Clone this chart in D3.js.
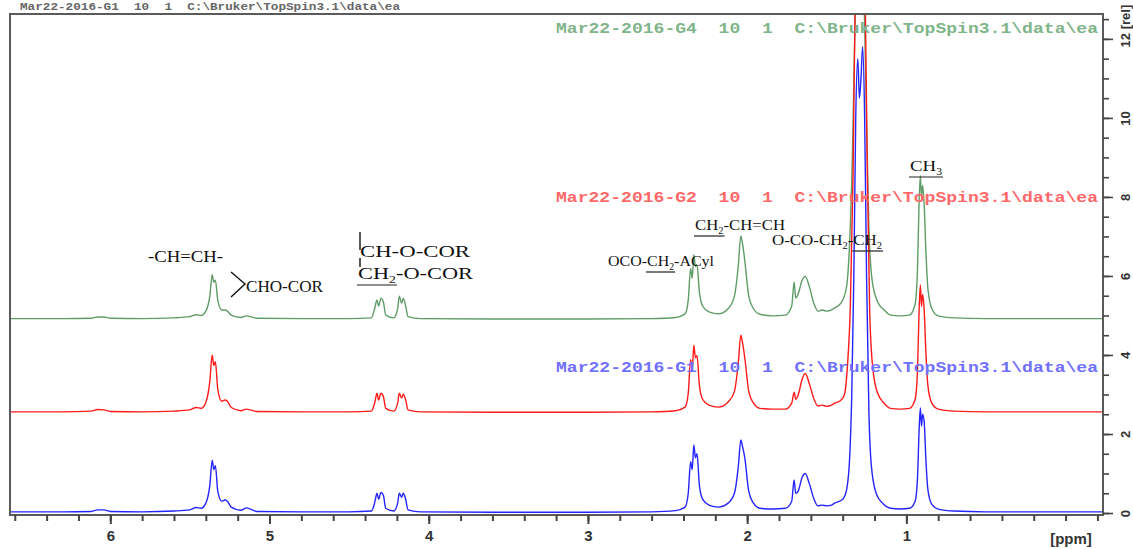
<!DOCTYPE html>
<html>
<head>
<meta charset="utf-8">
<script src="https://cdn.jsdelivr.net/npm/d3@7"></script>
<style>
  body { margin: 0; background: #fff; }
  svg { display: block; }
  .mono { white-space: pre; }
</style>
</head>
<body>
<div id="chart"></div>
<script>
// axis ranges / ticks
var ppmDomain = [6.63, -0.235];
var intDomain = [-0.05, 12.63];
var ppmMajor = [6, 5, 4, 3, 2, 1];
var intMajor = [0, 2, 4, 6, 8, 10, 12];

// stacked spectra, bottom to top
var spectrumNames = ["G1", "G2", "G4"];
var spectrumOffsets = [0, 2.53, 4.89];
var labelLevels = [3.7, 8.0, 12.28];

// [ppm, intensity above own baseline]
var g1 = [[6.63,0.03],[6.3,0.03],[6.12,0.04],[6.08,0.08],[6.04,0.08],[6.0,0.04],[5.8,0.03],[5.6,0.05],[5.5,0.08],[5.46,0.14],[5.43,0.12],[5.4,0.25],[5.375,0.7],[5.36,1.34],[5.35,1.1],[5.34,1.2],[5.325,0.55],[5.3,0.3],[5.28,0.33],[5.265,0.3],[5.24,0.15],[5.18,0.07],[5.145,0.13],[5.12,0.1],[5.08,0.04],[4.8,0.03],[4.5,0.03],[4.36,0.05],[4.34,0.25],[4.325,0.5],[4.315,0.35],[4.3,0.52],[4.285,0.45],[4.27,0.12],[4.22,0.05],[4.195,0.25],[4.185,0.5],[4.17,0.4],[4.16,0.5],[4.145,0.35],[4.13,0.08],[4.05,0.03],[3.6,0.02],[3.0,0.02],[2.6,0.03],[2.45,0.06],[2.39,0.15],[2.37,0.5],[2.355,1.3],[2.345,1.1],[2.335,1.72],[2.325,1.4],[2.315,1.5],[2.3,0.7],[2.28,0.35],[2.24,0.2],[2.18,0.15],[2.12,0.25],[2.08,0.5],[2.055,1.2],[2.04,1.85],[2.03,1.7],[2.015,1.4],[1.99,0.55],[1.96,0.25],[1.92,0.12],[1.84,0.1],[1.76,0.12],[1.72,0.3],[1.705,0.84],[1.695,0.5],[1.68,0.55],[1.655,0.9],[1.635,1.0],[1.61,0.75],[1.58,0.35],[1.555,0.18],[1.53,0.2],[1.5,0.18],[1.47,0.2],[1.45,0.25],[1.4,0.35],[1.375,0.6],[1.355,1.5],[1.343,3],[1.33,6],[1.318,10],[1.305,11.5],[1.295,10.5],[1.285,11],[1.275,11.8],[1.262,10],[1.25,6],[1.235,2.5],[1.22,1.2],[1.19,0.5],[1.15,0.25],[1.1,0.12],[1.04,0.1],[0.98,0.12],[0.945,0.3],[0.93,0.9],[0.92,2.1],[0.912,2.66],[0.905,2.2],[0.898,2.5],[0.888,2.3],[0.878,1.4],[0.865,0.6],[0.84,0.22],[0.8,0.1],[0.7,0.05],[0.5,0.03],[0.2,0.03],[-0.235,0.03]];

var g2 = [[6.63,0.03],[6.3,0.03],[6.12,0.05],[6.08,0.09],[6.04,0.08],[6.0,0.04],[5.8,0.03],[5.6,0.05],[5.5,0.08],[5.46,0.14],[5.43,0.12],[5.4,0.27],[5.375,0.8],[5.36,1.47],[5.35,1.2],[5.34,1.3],[5.325,0.6],[5.3,0.3],[5.28,0.33],[5.265,0.3],[5.24,0.14],[5.18,0.06],[5.145,0.1],[5.12,0.08],[5.08,0.04],[4.8,0.03],[4.5,0.03],[4.36,0.05],[4.34,0.25],[4.325,0.5],[4.315,0.33],[4.3,0.5],[4.285,0.42],[4.27,0.12],[4.22,0.05],[4.195,0.25],[4.185,0.5],[4.17,0.38],[4.16,0.48],[4.145,0.33],[4.13,0.08],[4.05,0.03],[3.6,0.02],[3.0,0.02],[2.6,0.03],[2.45,0.06],[2.39,0.15],[2.37,0.5],[2.355,1.35],[2.345,1.1],[2.335,1.72],[2.325,1.4],[2.315,1.45],[2.3,0.7],[2.28,0.35],[2.24,0.2],[2.18,0.15],[2.12,0.28],[2.08,0.55],[2.055,1.3],[2.04,1.97],[2.03,1.8],[2.015,1.4],[1.99,0.55],[1.96,0.25],[1.92,0.12],[1.84,0.1],[1.76,0.1],[1.72,0.25],[1.705,0.53],[1.695,0.35],[1.68,0.45],[1.655,0.85],[1.635,1.0],[1.61,0.75],[1.58,0.35],[1.555,0.18],[1.53,0.2],[1.5,0.17],[1.47,0.2],[1.45,0.25],[1.42,0.3],[1.4,0.38],[1.387,0.5],[1.37,1.2],[1.352,2.7],[1.335,6],[1.32,11],[1.305,13],[1.29,12],[1.275,13],[1.26,11],[1.245,6],[1.23,2.5],[1.21,1.1],[1.18,0.5],[1.14,0.25],[1.1,0.12],[1.04,0.1],[0.98,0.12],[0.945,0.35],[0.93,1.1],[0.92,2.6],[0.912,3.24],[0.905,2.7],[0.898,3.0],[0.888,2.6],[0.878,1.6],[0.865,0.7],[0.84,0.25],[0.8,0.1],[0.7,0.05],[0.5,0.03],[0.2,0.03],[-0.235,0.03]];

var g4 = [[6.63,0.03],[6.3,0.03],[6.12,0.04],[6.08,0.07],[6.04,0.07],[6.0,0.04],[5.8,0.03],[5.6,0.05],[5.5,0.08],[5.46,0.13],[5.43,0.11],[5.4,0.22],[5.375,0.6],[5.36,1.14],[5.35,0.95],[5.34,1.0],[5.325,0.5],[5.3,0.25],[5.28,0.25],[5.265,0.22],[5.24,0.12],[5.18,0.06],[5.145,0.1],[5.12,0.08],[5.08,0.04],[4.8,0.03],[4.5,0.03],[4.36,0.05],[4.34,0.28],[4.325,0.5],[4.315,0.35],[4.3,0.55],[4.285,0.45],[4.27,0.12],[4.22,0.05],[4.195,0.28],[4.185,0.6],[4.17,0.42],[4.16,0.55],[4.145,0.35],[4.13,0.08],[4.05,0.03],[3.6,0.02],[3.0,0.02],[2.6,0.03],[2.45,0.06],[2.39,0.15],[2.37,0.5],[2.355,1.3],[2.345,1.05],[2.335,1.65],[2.325,1.35],[2.315,1.4],[2.3,0.7],[2.28,0.35],[2.24,0.2],[2.18,0.15],[2.12,0.28],[2.08,0.6],[2.055,1.4],[2.04,2.12],[2.03,1.95],[2.015,1.5],[1.99,0.6],[1.96,0.28],[1.92,0.14],[1.84,0.1],[1.76,0.12],[1.72,0.35],[1.705,0.96],[1.695,0.55],[1.68,0.65],[1.655,1.0],[1.635,1.1],[1.61,0.85],[1.58,0.4],[1.555,0.22],[1.53,0.25],[1.5,0.22],[1.47,0.25],[1.45,0.3],[1.42,0.38],[1.4,0.5],[1.375,0.85],[1.356,2.0],[1.34,4],[1.325,7],[1.31,9],[1.295,8.5],[1.28,9],[1.265,8],[1.25,5],[1.235,2.3],[1.215,1.0],[1.18,0.45],[1.14,0.25],[1.1,0.12],[1.04,0.1],[0.98,0.12],[0.945,0.4],[0.93,1.3],[0.92,3.0],[0.912,3.65],[0.905,3.1],[0.898,3.4],[0.888,2.9],[0.878,1.8],[0.865,0.8],[0.84,0.28],[0.8,0.1],[0.7,0.05],[0.5,0.03],[0.2,0.03],[-0.235,0.03]];

var spectra = [g1, g2, g4];
var lineColors = ["#2424ff", "#ff1a1a", "#5f9c67"];
var textColors = ["#7070ff", "#ff6868", "#80b58a"];
var titleTemplate = "Mar22-2016-{n}  10  1  C:\\Bruker\\TopSpin3.1\\data\\ea";

var width = 1133, height = 549;
var frame = { left: 10, right: 1103, top: 14, bottom: 515 };

var svg = d3.select("#chart").append("svg")
  .attr("width", width)
  .attr("height", height);

var x = d3.scaleLinear().domain(ppmDomain).range([frame.left, frame.right]);
var y = d3.scaleLinear().domain(intDomain).range([frame.bottom, frame.top]);

svg.append("defs").append("clipPath").attr("id", "plot-clip")
  .append("rect")
  .attr("x", frame.left).attr("y", frame.top)
  .attr("width", frame.right - frame.left)
  .attr("height", frame.bottom - frame.top);

// header line above the frame
svg.append("text")
  .attr("class", "mono")
  .attr("x", 20).attr("y", 10)
  .attr("font-family", "Liberation Mono, monospace")
  .attr("font-size", 11).attr("font-weight", "bold")
  .attr("fill", "#666")
  .attr("textLength", 380).attr("lengthAdjust", "spacingAndGlyphs")
  .text(titleTemplate.replace("{n}", "G1"));

// spectra
var plot = svg.append("g").attr("clip-path", "url(#plot-clip)");
var drawOrder = [2, 0, 1];
drawOrder.forEach(function (i) {
  var off = spectrumOffsets[i];
  var line = d3.line()
    .x(function (d) { return x(d[0]); })
    .y(function (d) { return y(d[1] + off); })
    .curve(d3.curveMonotoneX);
  plot.append("path")
    .datum(spectra[i])
    .attr("d", line)
    .attr("fill", "none")
    .attr("stroke", lineColors[i])
    .attr("stroke-width", 1.4)
    .attr("stroke-linejoin", "round");
});

// spectrum file labels
spectrumNames.forEach(function (n, i) {
  svg.append("text")
    .attr("class", "mono")
    .attr("x", 556).attr("y", y(labelLevels[i]) + 5)
    .attr("font-family", "Liberation Mono, monospace")
    .attr("font-size", 14).attr("font-weight", "bold")
    .attr("fill", textColors[i])
    .attr("textLength", 542).attr("lengthAdjust", "spacingAndGlyphs")
    .text(titleTemplate.replace("{n}", n));
});

// frame
svg.append("rect")
  .attr("x", frame.left).attr("y", frame.top)
  .attr("width", frame.right - frame.left)
  .attr("height", frame.bottom - frame.top)
  .attr("fill", "none").attr("stroke", "#5a5a5a").attr("stroke-width", 2);

// bottom axis
var minorPpm = d3.range(-0.2, 6.61, 0.2);
svg.append("g")
  .attr("transform", "translate(0," + frame.bottom + ")")
  .call(d3.axisBottom(x).tickValues(minorPpm).tickSize(6).tickFormat(""))
  .call(function (g) { g.select(".domain").remove(); g.selectAll("line").attr("stroke", "#444").attr("stroke-width", 2); });

var xAxis = svg.append("g")
  .attr("transform", "translate(0," + frame.bottom + ")")
  .call(d3.axisBottom(x).tickValues(ppmMajor).tickSize(9).tickPadding(6).tickFormat(d3.format("d")));
xAxis.select(".domain").remove();
xAxis.selectAll("line").attr("stroke", "#444").attr("stroke-width", 2);
xAxis.selectAll("text")
  .attr("font-family", "Liberation Sans, Arial, sans-serif")
  .attr("font-size", 15).attr("font-weight", "bold").attr("fill", "#333");

svg.append("text")
  .attr("x", 1071).attr("y", 544)
  .attr("text-anchor", "middle")
  .attr("font-family", "Liberation Sans, Arial, sans-serif")
  .attr("font-size", 15).attr("font-weight", "bold").attr("fill", "#333")
  .text("[ppm]");

// right axis
var minorInt = d3.range(0, 12.6, 0.5);
svg.append("g")
  .attr("transform", "translate(" + frame.right + ",0)")
  .call(d3.axisRight(y).tickValues(minorInt).tickSize(6).tickFormat(""))
  .call(function (g) { g.select(".domain").remove(); g.selectAll("line").attr("stroke", "#444").attr("stroke-width", 1.6); });

var yAxis = svg.append("g")
  .attr("transform", "translate(" + frame.right + ",0)")
  .call(d3.axisRight(y).tickValues(intMajor).tickSize(10).tickFormat(""));
yAxis.select(".domain").remove();
yAxis.selectAll("line").attr("stroke", "#444").attr("stroke-width", 1.6);
yAxis.selectAll(".tick").append("text")
  .attr("transform", "translate(22,0) rotate(-90)")
  .attr("dy", "0.35em")
  .attr("font-family", "Liberation Sans, Arial, sans-serif")
  .attr("font-size", 13).attr("font-weight", "bold").attr("fill", "#333")
  .text(function (d) { return d === 12 ? "12 [rel]" : d; })
  .attr("text-anchor", function (d) { return d === 12 ? "start" : "middle"; })
  .attr("x", function (d) { return d === 12 ? -8 : 0; });

// peak assignments
var anno = svg.append("g")
  .attr("font-family", "Liberation Serif, Times New Roman, serif")
  .attr("fill", "#111");

function label(parts, px, py, size, len) {
  var t = anno.append("text")
    .attr("x", px).attr("y", py)
    .attr("font-size", size)
    .attr("textLength", len).attr("lengthAdjust", "spacingAndGlyphs");
  var spans = [];
  parts.forEach(function (p, k) {
    var s = t.append("tspan").text(p.t);
    if (p.sub) s.attr("font-size", size * 0.62).attr("dy", 4);
    else if (k > 0 && parts[k - 1].sub) s.attr("dy", -4);
    spans.push({ node: s.node(), u: p.u });
  });
  // underline the flagged runs
  var x0 = null, x1 = null;
  spans.forEach(function (s, k) {
    if (s.u) {
      var n = s.node.getNumberOfChars();
      var a = s.node.getStartPositionOfChar(0).x;
      var b = s.node.getEndPositionOfChar(n - 1).x;
      if (x0 === null) x0 = a;
      x1 = b;
    }
    if ((!s.u || k === spans.length - 1) && x0 !== null) {
      anno.append("line")
        .attr("x1", x0 - 1).attr("x2", x1 + 1)
        .attr("y1", py + 6).attr("y2", py + 6)
        .attr("stroke", "#222").attr("stroke-width", 1.2);
      x0 = null;
    }
  });
  return t;
}

label([{ t: "-CH=CH-" }], 148, 262, 16, 75);
label([{ t: "CHO-COR" }], 246, 292, 16, 77);
anno.append("path")
  .attr("d", "M231,272 L245,284 L231,297")
  .attr("fill", "none").attr("stroke", "#111").attr("stroke-width", 1.4);

label([{ t: "CH-O-COR" }], 360, 257, 17, 110);
label([{ t: "CH", u: true }, { t: "2", sub: true, u: true }, { t: "-O-COR" }], 358, 279, 17, 115);
anno.append("line").attr("x1", 360).attr("x2", 360).attr("y1", 232).attr("y2", 250)
  .attr("stroke", "#111").attr("stroke-width", 1.4);
anno.append("line").attr("x1", 360).attr("x2", 360).attr("y1", 258).attr("y2", 267)
  .attr("stroke", "#111").attr("stroke-width", 1.4);

label([{ t: "OCO-" }, { t: "CH", u: true }, { t: "2", sub: true, u: true }, { t: "-ACyl" }], 608, 266, 15, 106);
label([{ t: "CH", u: true }, { t: "2", sub: true, u: true }, { t: "-CH=CH" }], 695, 230, 15, 90);
label([{ t: "O-CO-CH" }, { t: "2", sub: true }, { t: "-" }, { t: "CH", u: true }, { t: "2", sub: true, u: true }], 772, 245, 15, 110);
label([{ t: "CH", u: true }, { t: "3", sub: true, u: true }], 910, 171, 15, 32);
</script>
</body>
</html>
